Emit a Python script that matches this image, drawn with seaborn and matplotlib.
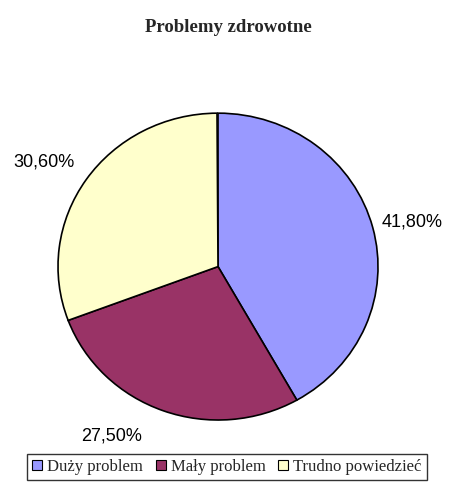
import matplotlib
matplotlib.use("Agg")
import matplotlib.pyplot as plt
import seaborn as sns
import numpy as np

# data
categories = ["Duży problem", "Mały problem", "Trudno powiedzieć"]
shares = [41.8, 27.5, 30.6]
colors = ["#9999FF", "#993366", "#FFFFCC"]

sns.set_theme(style="white")
plt.rcParams["font.family"] = ["Liberation Sans", "DejaVu Sans"]

fig = plt.figure(figsize=(4.49, 4.84), dpi=100)
ax = fig.add_axes([0.1292, 0.1322, 0.7127, 0.634])

wedges, texts, autotexts = ax.pie(
    [s / 100 for s in shares],
    colors=colors,
    startangle=90,
    counterclock=False,
    normalize=False,
    autopct=lambda p: ("%.2f%%" % p).replace(".", ","),
    pctdistance=1.27,
    wedgeprops=dict(edgecolor="black", linewidth=1.2),
    textprops=dict(fontsize=13, color="black"),
)
ax.set_aspect("auto")
ax.set_xlim(-1, 1)
ax.set_ylim(-1, 1)

# nudge the percent labels the way Excel places them
shift = [-1.4, -11, 2.5]
dist = [1.25, 1.29, 1.28]
for w, t, s, d in zip(wedges, autotexts, shift, dist):
    a = np.deg2rad((w.theta1 + w.theta2) / 2 + s)
    t.set_position((d * np.cos(a), d * np.sin(a)))

fig.text(0.508, 1 - 28 / 484, "Problemy zdrowotne", ha="center", va="center",
         family="Liberation Serif", weight="bold", fontsize=13.5)

leg = fig.legend(wedges, categories, loc="center", bbox_to_anchor=(227 / 449, 1 - 467 / 484),
                 ncol=3, frameon=True, fancybox=False, edgecolor="black",
                 handlelength=0.6, handleheight=0.6, handletextpad=0.3,
                 columnspacing=0.75, borderpad=0.3, borderaxespad=0,
                 prop=dict(family="Liberation Serif", size=12))
leg.get_frame().set_linewidth(1.0)
for h in leg.legend_handles:
    h.set_linewidth(0.8)

fig.savefig("out.png", dpi=100)
